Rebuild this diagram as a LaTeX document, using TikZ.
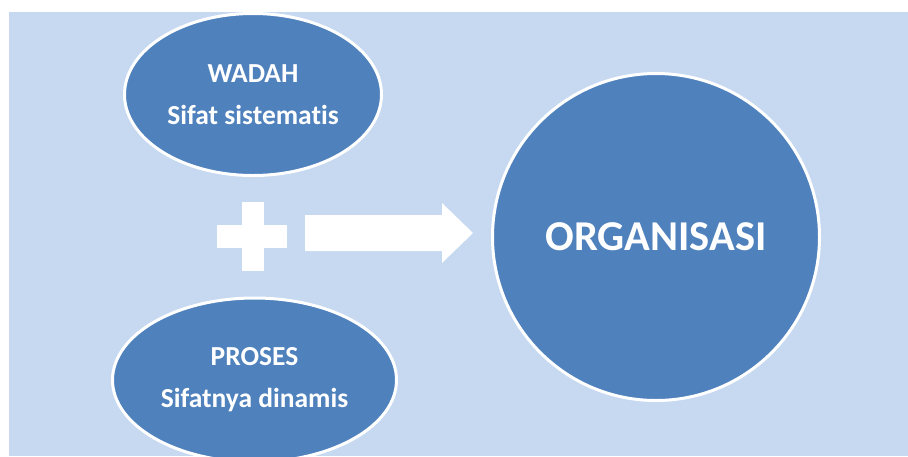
\documentclass[tikz,border=0pt]{standalone}
\usepackage{fontspec}
\setmainfont[Ligatures={NoCommon}]{Carlito}
\usetikzlibrary{shapes.geometric}
\definecolor{panel}{HTML}{C6D9F0}
\definecolor{bubble}{HTML}{4F81BD}
\tikzset{
  bubblebox/.style={ellipse, fill=bubble, draw=white, line width=3pt,
    inner sep=0pt, text=white, align=center, font=\bfseries\fontsize{27.5}{42}\selectfont},
  bigbubble/.style={circle, fill=bubble, draw=white, line width=3pt,
    inner sep=0pt, text=white, font=\bfseries\fontsize{42.5}{48}\selectfont},
  sign/.style={fill=white}
}
\begin{document}
\begin{tikzpicture}[x=1pt,y=-1pt]
  \useasboundingbox (0,0) rectangle (908,456);
  \fill[panel] (9,12) rectangle (908,456);
  \begin{scope}
    \clip (9,12) rectangle (908,456);
    \node[bubblebox, minimum width=257pt, minimum height=162pt] (wadah) at (253,94.5)
      {WADAH\\Sifat sistematis};
    \node[bubblebox, minimum width=284pt, minimum height=164pt] (proses) at (254.5,380)
      {PROSES\\Sifatnya dinamis};
    \node[bigbubble, minimum size=327pt] (org) at (656,237) {ORGANISASI};
  \end{scope}
  % plus sign
  \fill[sign] (242,202) rectangle (264,271);
  \fill[sign] (217,225) rectangle (287,248);
  % block arrow pointing at the circle
  \fill[sign] (305,215) -- (442,215) -- (442,203) -- (473,233) -- (442,263)
    -- (442,251) -- (305,251) -- cycle;
\end{tikzpicture}
\end{document}
